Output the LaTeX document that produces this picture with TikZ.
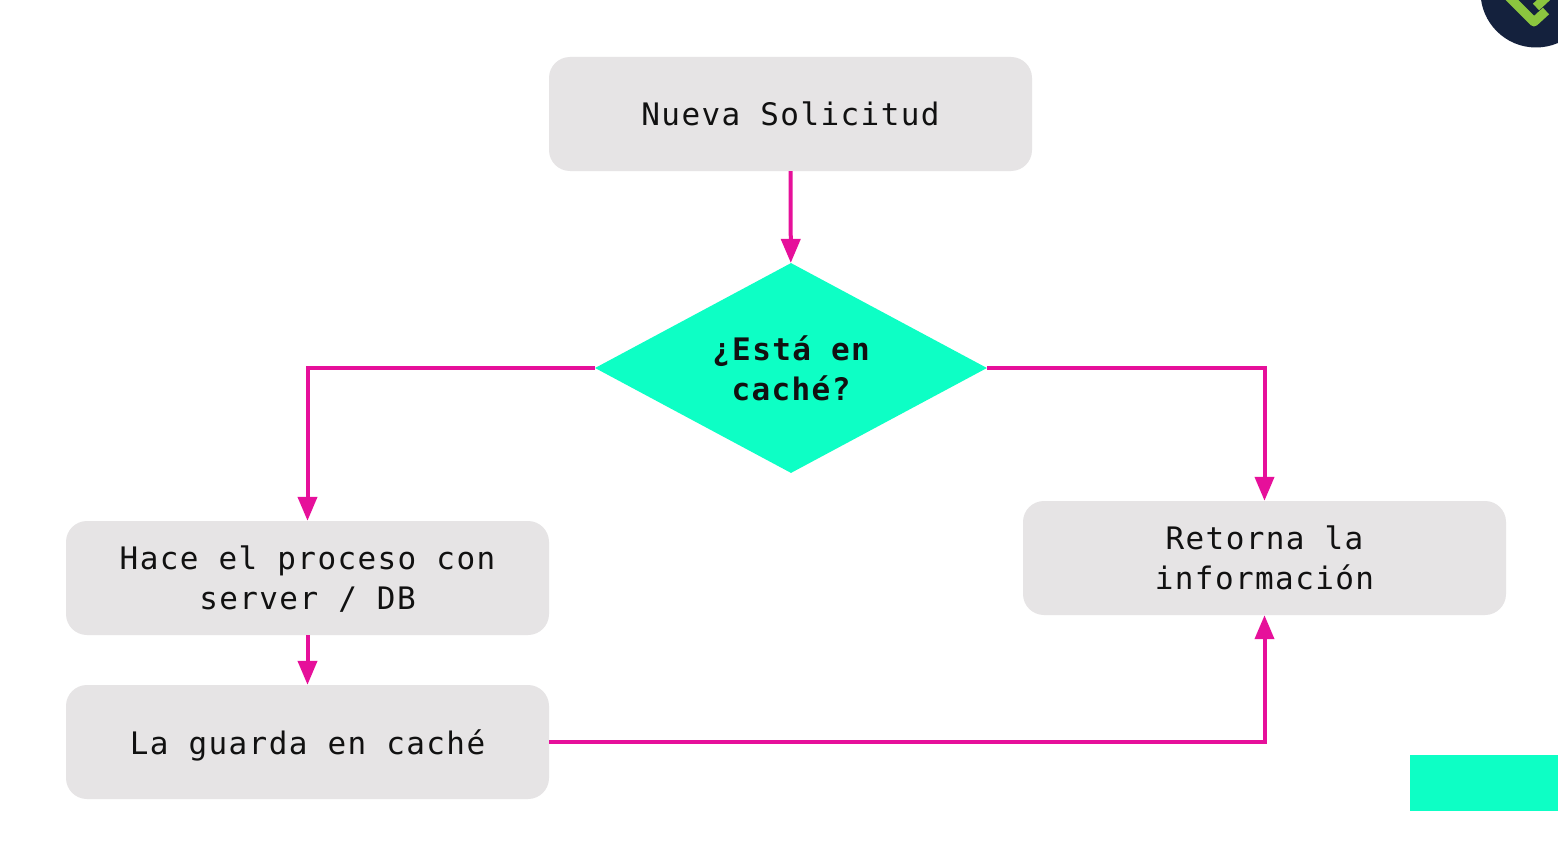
\documentclass[tikz,border=0pt]{standalone}
\usepackage{fontspec}
\setmainfont[LetterSpace=4.5]{DejaVu Sans Mono}
\usetikzlibrary{shapes.geometric,arrows.meta,calc}
\definecolor{boxgray}{HTML}{E6E4E5}
\definecolor{mint}{HTML}{0DFFC5}
\definecolor{pinkline}{HTML}{E6109A}
\definecolor{navy}{HTML}{14213D}
\definecolor{inktext}{HTML}{111111}
\definecolor{checkgreen}{HTML}{8CC63F}
\tikzset{x=1pt,y=-1pt,
  flowbox/.style={draw=none,fill=boxgray,rounded corners=21pt,minimum width=483pt,minimum height=114pt,align=center,text=inktext,font=\fontsize{31}{40}\selectfont,inner sep=0pt},
  decision/.style={diamond,fill=mint,draw=none,minimum width=392pt,minimum height=210pt,inner sep=0pt,aspect=1.87},
  link/.style={draw=pinkline,line width=4pt,-{Triangle[length=24pt,width=19pt]}}}
\begin{document}
\begin{tikzpicture}
\useasboundingbox (0,0) rectangle (1558,864);
\fill[white] (0,0) rectangle (1558,864);
\node[flowbox] (nueva) at (790.5,114) {Nueva Solicitud};
\node[decision] (dec) at (791,368) {};
\node[align=center,text=inktext,font=\fontsize{31}{40}\selectfont\bfseries] (dectext) at (791,368) {¿Está en\\caché?};
\node[flowbox] (hace) at (307.5,578) {\rule{0pt}{26pt}Hace el proceso con\\server / DB};
\node[flowbox] (guarda) at (307.5,742) {\rule{0pt}{32pt}La guarda en caché};
\node[flowbox] (retorna) at (1264.5,558) {Retorna la\\información};
\draw[link] (nueva) -- (dec);
\draw[link] (dec.west) -| (hace.north);
\draw[link] (dec.east) -| (retorna.north);
\draw[link] (hace) -- (guarda);
\draw[link] (guarda.east) -| (retorna.south);
\node[fill=mint,minimum width=148pt,minimum height=56pt,inner sep=0pt,draw=none] (mintbar) at (1484,783) {};
\begin{scope}
\clip (0,0) rectangle (1558,864);
\node[circle,fill=navy,minimum size=111pt,inner sep=0pt,draw=none] (logo) at (1536,-8) {};
\draw[checkgreen,line width=9pt,line join=round] (1508,-4) -- (1534,22) -- (1546,11);
\draw[checkgreen,line width=9pt] (1536,7) -- (1550,-6);
\end{scope}
\end{tikzpicture}
\end{document}
